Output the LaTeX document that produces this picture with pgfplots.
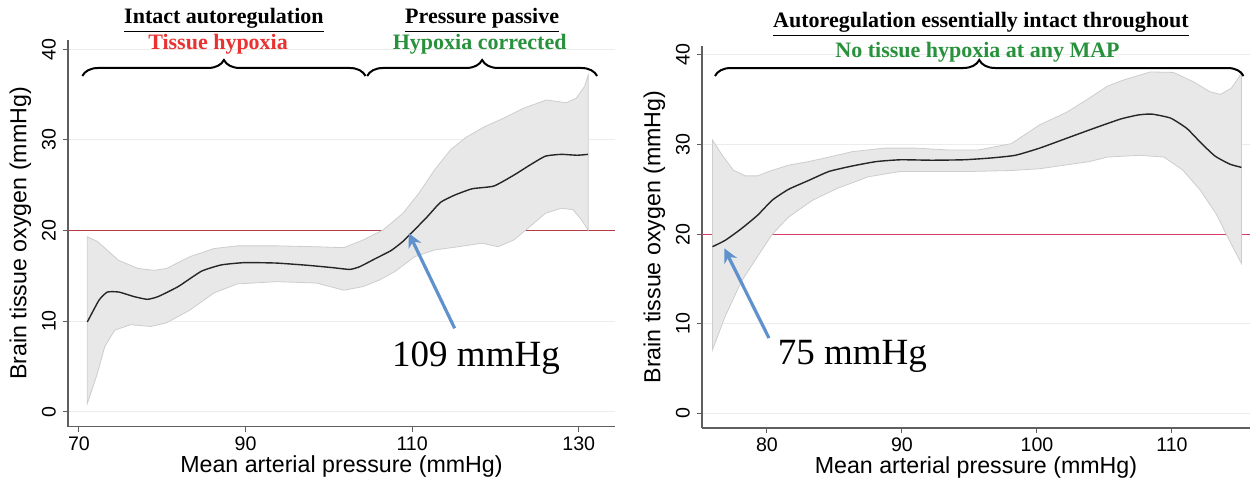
\documentclass[border=0pt]{standalone}
\usepackage{fontspec}
\setmainfont{Liberation Sans}
\newfontfamily\serif{Liberation Serif}
\usepackage{pgfplots}
\pgfplotsset{compat=1.18}
\usetikzlibrary{arrows.meta,decorations.pathreplacing}

\definecolor{axisgray}{RGB}{95,95,95}
\definecolor{gridgray}{RGB}{236,236,236}
\definecolor{bandfill}{RGB}{232,232,232}
\definecolor{bandedge}{RGB}{205,205,205}
\definecolor{refredA}{RGB}{180,60,70}
\definecolor{refredB}{RGB}{215,60,100}
\definecolor{txtred}{RGB}{235,50,50}
\definecolor{txtgreen}{RGB}{40,145,60}
\definecolor{arrowblue}{RGB}{95,145,205}

\pgfplotsset{ptio/.style={
  scale only axis,
  axis lines=left,
  axis line style={-, draw=axisgray, line width=0.6pt},
  ytick={0,10,20,30,40},
  ymajorgrids,
  major grid style={draw=gridgray, line width=0.5pt},
  tick align=outside,
  major tick length=2.6pt,
  tick style={draw=axisgray, line width=0.5pt},
  yticklabel style={rotate=90, anchor=south, font=\fontsize{9.8}{11}\selectfont},
  xticklabel style={font=\fontsize{9.8}{11}\selectfont, yshift=1pt},
  label style={font=\fontsize{11.6}{13}\selectfont},
  xlabel style={yshift=4.5pt},
  ylabel style={yshift=-1.5pt},
  xlabel={Mean arterial pressure (mmHg)},
  ylabel={Brain tissue oxygen (mmHg)},
  /pgf/number format/assume math mode=true,
  clip=false,
}}

\newcommand{\ttl}[1]{\serif\bfseries\fontsize{11}{13}\selectfont #1}

\begin{document}
\begin{tikzpicture}
% ---- left panel
\begin{axis}[ptio,
  at={(0,0)}, anchor=south west,
  width=273.5pt, height=193.25pt,
  xmin=68.68, xmax=134.35, ymin=-1.66, ymax=41,
  xtick={70,90,110,130},
]
\addplot[refredA, line width=0.6pt] coordinates {(68.68,20)(134.35,20)};
% 95% band: upper edge left to right, lower edge back
\addplot[fill=bandfill, draw=bandedge, line width=0.4pt] coordinates {
  (71,19.3)(72.2,18.8)(74.75,16.7)(77.1,15.8)(79,15.6)(80.5,15.8)(83.3,17.1)
  (86.2,18.0)(89,18.3)(93.7,18.3)(98.5,18.2)(101.8,18.1)(104.1,18.95)
  (106.5,20.05)(108.9,21.9)(110.8,24.1)(112.7,26.7)(114.6,28.9)(116.5,30.3)
  (118.8,31.5)(121.0,32.4)(123.4,33.5)(126.1,34.4)(128.5,34.1)(129.7,34.6)
  (130.7,35.9)(131.15,37.2)
  (131.15,20.0)(130.3,21.2)(129.3,22.3)(127.9,22.45)(126.0,21.9)(124.1,20.4)
  (122.2,18.95)(120.3,18.2)(118.4,18.6)(115.5,18.2)(112.7,17.85)(110.3,17.1)
  (107.9,15.45)(106,14.5)(104.1,13.8)(101.8,13.4)(98.5,14.2)(93.7,14.35)
  (89,14.1)(86.2,13.1)(83.3,11.2)(80.5,9.8)(78.6,9.4)(76.2,9.6)(74.3,9.0)
  (73.1,7.2)(72.2,4.2)(71,0.9)
} -- cycle;
\addplot[black!85, line width=0.7pt, smooth, tension=0.3] coordinates {
  (71,9.9)(72.4,12.3)(73.4,13.2)(74.8,13.2)(76.6,12.7)(78.2,12.4)(79.5,12.7)
  (81.9,13.8)(84.7,15.5)(87.1,16.2)(89.9,16.45)(93.7,16.4)(97.5,16.15)
  (100.4,15.9)(102.5,15.7)(103.7,16.0)(105.6,16.9)(107.5,17.8)(108.9,18.8)
  (110.1,19.9)(111.8,21.5)(113.4,23.1)(115.1,23.9)(117.2,24.6)(119.8,24.9)
  (122.2,26.1)(124.1,27.2)(126.0,28.2)(127.9,28.4)(129.8,28.3)(131.1,28.4)
};
\draw[arrowblue, line width=1.6pt, -{Stealth[length=7pt,width=7pt]}]
  (axis cs:115.1,9.2) -- (axis cs:109.6,19.7);
\node[anchor=base, inner sep=0pt] at (axis cs:117.66,4.97)
  {\serif\fontsize{18.5}{20}\selectfont 109 mmHg};
\draw[line width=1pt, decorate, decoration={brace, amplitude=8pt}]
  (axis cs:70.4,37.05) -- (axis cs:104.4,37.05);
\draw[line width=1pt, decorate, decoration={brace, amplitude=8pt}]
  (axis cs:104.6,37.05) -- (axis cs:132.2,37.05);
\node at (axis cs:87.4,43.2) {\ttl{\underline{Intact autoregulation}}};
\node[txtred] at (axis cs:86.7,40.5) {\ttl{Tissue hypoxia}};
\node at (axis cs:118.4,43.2) {\ttl{\underline{Pressure passive}}};
\node[txtgreen] at (axis cs:118.1,40.5) {\ttl{Hypoxia corrected}};
\end{axis}

% ---- right panel
\begin{axis}[ptio,
  at={(317pt,-0.65pt)}, anchor=south west,
  width=274pt, height=191pt,
  xmin=75.19, xmax=115.78, ymin=-1.64, ymax=41,
  xtick={80,90,100,110},
]
\addplot[refredB, line width=0.6pt] coordinates {(75.19,20)(115.78,20)};
\addplot[fill=bandfill, draw=bandedge, line width=0.4pt] coordinates {
  (75.97,30.5)(76.6,29.0)(77.5,27.15)(78.4,26.5)(79.3,26.5)(80.15,27.0)
  (81.6,27.7)(83.1,28.1)(84.6,28.6)(86.3,29.2)(88.7,29.6)(91.0,29.6)
  (93.4,29.4)(95.7,29.4)(98.1,30.1)(100.2,32.2)(102.2,33.6)(103.9,35.2)
  (105.2,36.5)(106.4,37.2)(108.4,38.1)(110.1,38.05)(111.6,37.0)(112.8,35.9)
  (113.6,35.6)(114.4,36.3)(115.0,37.6)(115.15,38.1)
  (115.15,16.7)(114.05,19.9)(113.3,22.2)(112.1,24.9)(110.8,27.15)(109.4,28.6)
  (107.6,28.8)(105.2,28.6)(103.9,28.1)(100.2,27.3)(98.1,27.1)(95.2,27.0)
  (92.2,27.0)(89.9,27.0)(87.5,26.4)(85.2,25.1)(83.4,23.8)(81.6,21.9)
  (80.4,20.0)(79.3,17.5)(78.1,14.7)(76.9,10.8)(75.97,7.1)
} -- cycle;
\addplot[black!85, line width=0.7pt, smooth, tension=0.3] coordinates {
  (75.97,18.6)(76.9,19.3)(78.1,20.6)(79.3,22.1)(80.4,23.8)(81.6,25.0)
  (83.1,26.0)(84.6,27.0)(86.3,27.6)(88.1,28.1)(89.9,28.3)(92.2,28.25)
  (94.6,28.3)(96.6,28.5)(98.4,28.8)(100.2,29.6)(102.2,30.7)(104.2,31.8)
  (106.2,32.85)(107.5,33.3)(108.5,33.4)(109.9,32.95)(111.1,31.8)(112.2,30.1)
  (113.2,28.7)(114.3,27.8)(115.15,27.45)
};
\draw[arrowblue, line width=1.6pt, -{Stealth[length=7pt,width=7pt]}]
  (axis cs:80.15,8.4) -- (axis cs:76.85,18.4);
\node[anchor=base, inner sep=0pt] at (axis cs:86.33,5.4)
  {\serif\fontsize{18.5}{20}\selectfont 75 mmHg};
\draw[line width=1pt, decorate, decoration={brace, amplitude=8pt}]
  (axis cs:76.15,37.65) -- (axis cs:115.3,37.65);
\node at (axis cs:95.85,43.45) {\ttl{\underline{Autoregulation essentially intact throughout}}};
\node[txtgreen] at (axis cs:95.6,40.35) {\ttl{No tissue hypoxia at any MAP}};
\end{axis}

\pgfresetboundingbox
\path[use as bounding box] (-34pt,-29.65pt) rectangle (592.5pt,213.35pt);
\end{tikzpicture}
\end{document}
